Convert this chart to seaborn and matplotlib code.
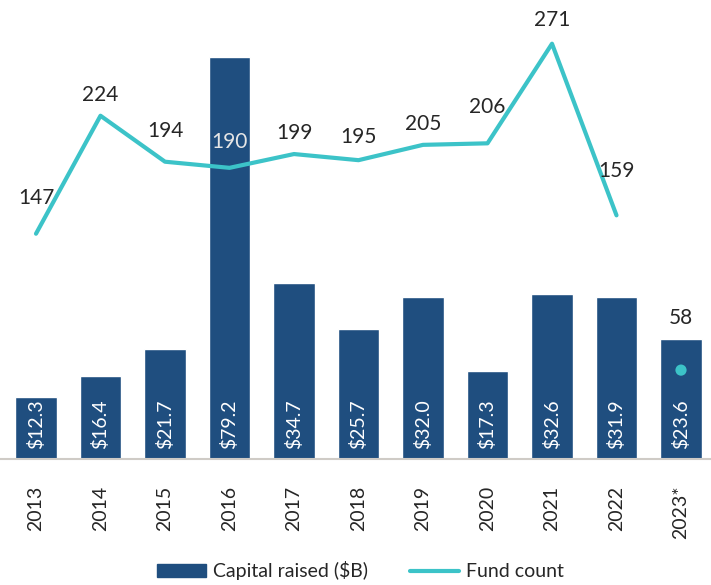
import numpy as np
import pandas as pd
import matplotlib
matplotlib.use('Agg')
import matplotlib.pyplot as plt
import seaborn as sns
from matplotlib.patches import Patch
from matplotlib.lines import Line2D

# ------------------------------------------------------------
# данные
# ------------------------------------------------------------
years = ['2013', '2014', '2015', '2016', '2017', '2018', '2019', '2020', '2021', '2022', '2023*']
capital = [12.3, 16.4, 21.7, 79.2, 34.7, 25.7, 32.0, 17.3, 32.6, 31.9, 23.6]
fund_count = [147, 224, 194, 190, 199, 195, 205, 206, 271, 159, 58]

bar_color = '#1F4E7F'
line_color = '#3CC3C8'
text_color = '#262626'
fs = 14

sns.set_theme(style='white')
plt.rcParams['font.family'] = ['Lato', 'DejaVu Sans']
plt.rcParams['font.weight'] = 'normal'

df = pd.DataFrame({'year': years, 'capital': capital, 'count': fund_count})
df['pos'] = np.arange(len(df))

fig = plt.figure(figsize=(7.11, 5.85), dpi=100)
ax = fig.add_axes([0, 0.2154, 1, 0.7675])

sns.barplot(data=df, x='year', y='capital', color=bar_color, saturation=1,
            width=0.636, ax=ax)
ax.set_ylim(0, 88.5)
ax.set_xlim(-0.558, 10.465)

# подписи внутри столбцов
for i, v in enumerate(capital):
    ax.annotate(f'${v:.1f}', (i, 0), xytext=(0, 10), textcoords='offset pixels',
                rotation=90, ha='center', va='bottom', color='white', fontsize=fs)

# линия количества фондов (2013-2022) + точка 2023
ax2 = ax.twinx()
line_df = df.iloc[:-1]
sns.lineplot(data=line_df, x='pos', y='count', color=line_color, linewidth=3,
             ax=ax2, solid_capstyle='round', solid_joinstyle='round')
sns.scatterplot(data=df.iloc[-1:], x='pos', y='count', color=line_color, s=65,
                edgecolor='none', ax=ax2)
ax2.set_ylim(0, 293)
ax2.set_xlim(-0.558, 10.465)

label_offsets = [36, 21, 31, 26, 21, 23, 21, 36, 24, 44, 52]
for i, (c, off) in enumerate(zip(fund_count, label_offsets)):
    col = '#E6E6E6' if years[i] == '2016' else text_color
    ax2.annotate(str(c), (i, c), xytext=(0, off), textcoords='offset pixels',
                 ha='center', va='center', color=col, fontsize=fs + 1)

for a in (ax, ax2):
    for s in ['top', 'right', 'left']:
        a.spines[s].set_visible(False)
    a.set_ylabel('')
    a.set_xlabel('')
    a.set_yticks([])
ax2.spines['bottom'].set_visible(False)
ax.spines['bottom'].set_color('#CFCBC6')
ax.spines['bottom'].set_linewidth(1.5)
ax.tick_params(axis='x', length=0, pad=19, labelsize=fs, labelcolor=text_color)
plt.setp(ax.get_xticklabels(), rotation=90)

handles = [Patch(color=bar_color, label='Capital raised ($B)'),
           Line2D([0], [0], color=line_color, linewidth=3, label='Fund count')]
fig.legend(handles=handles, loc='center', ncol=2, frameon=False,
           fontsize=fs, handlelength=2.5, handleheight=0.67, handletextpad=0.35,
           columnspacing=2.2, bbox_to_anchor=(0.507, 0.024), labelcolor=text_color)

fig.savefig('out.png', dpi=100)
